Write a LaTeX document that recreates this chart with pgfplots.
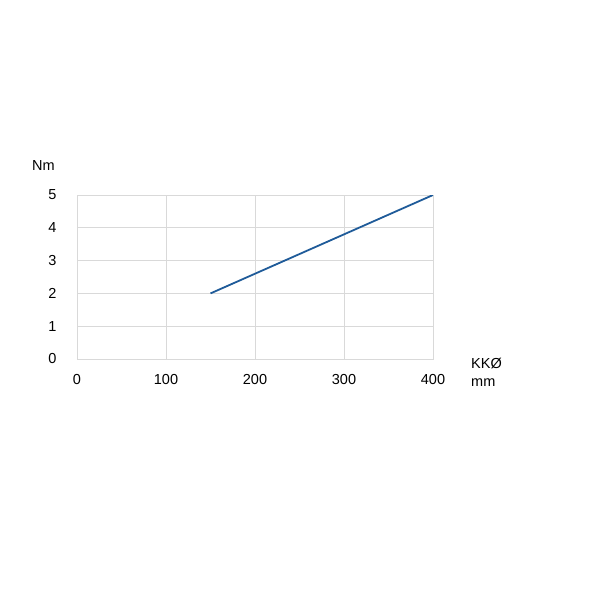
\documentclass[border=0pt]{standalone}
\usepackage{fontspec}
\setmainfont{Liberation Sans}
\usepackage{pgfplots}
\pgfplotsset{compat=1.18}
\definecolor{linec}{HTML}{1F5B99}
\definecolor{gridc}{HTML}{D9D9D9}
\begin{document}
\begin{tikzpicture}[x=1pt,y=1pt,font=\fontsize{14.5}{16}\selectfont]
\path[use as bounding box] (0,0) rectangle (600,600);
\begin{axis}[
  at={(77pt,241pt)}, anchor=south west,
  scale only axis, width=356pt, height=164pt,
  xmin=0, xmax=400, ymin=0, ymax=5,
  xtick={0,100,...,400}, ytick={0,1,...,5},
  grid=major,
  major grid style={gridc, line width=0.9pt},
  axis line style={gridc, line width=0.9pt},
  major tick length=0pt,
  /pgf/number format/assume math mode=true,
  ticklabel style={font=\fontsize{14.5}{16}\selectfont},
  yticklabel style={xshift=-17pt},
  xticklabel style={yshift=-12pt},
]
\addplot[linec, line width=1.8pt] coordinates {(150,2) (400,5)};
\end{axis}
\node at (43.5,434) {Nm};
\node[anchor=west, inner sep=0pt] at (471,236) {KKØ};
\node[anchor=west, inner sep=0pt] at (471,217) {mm};
\end{tikzpicture}
\end{document}
